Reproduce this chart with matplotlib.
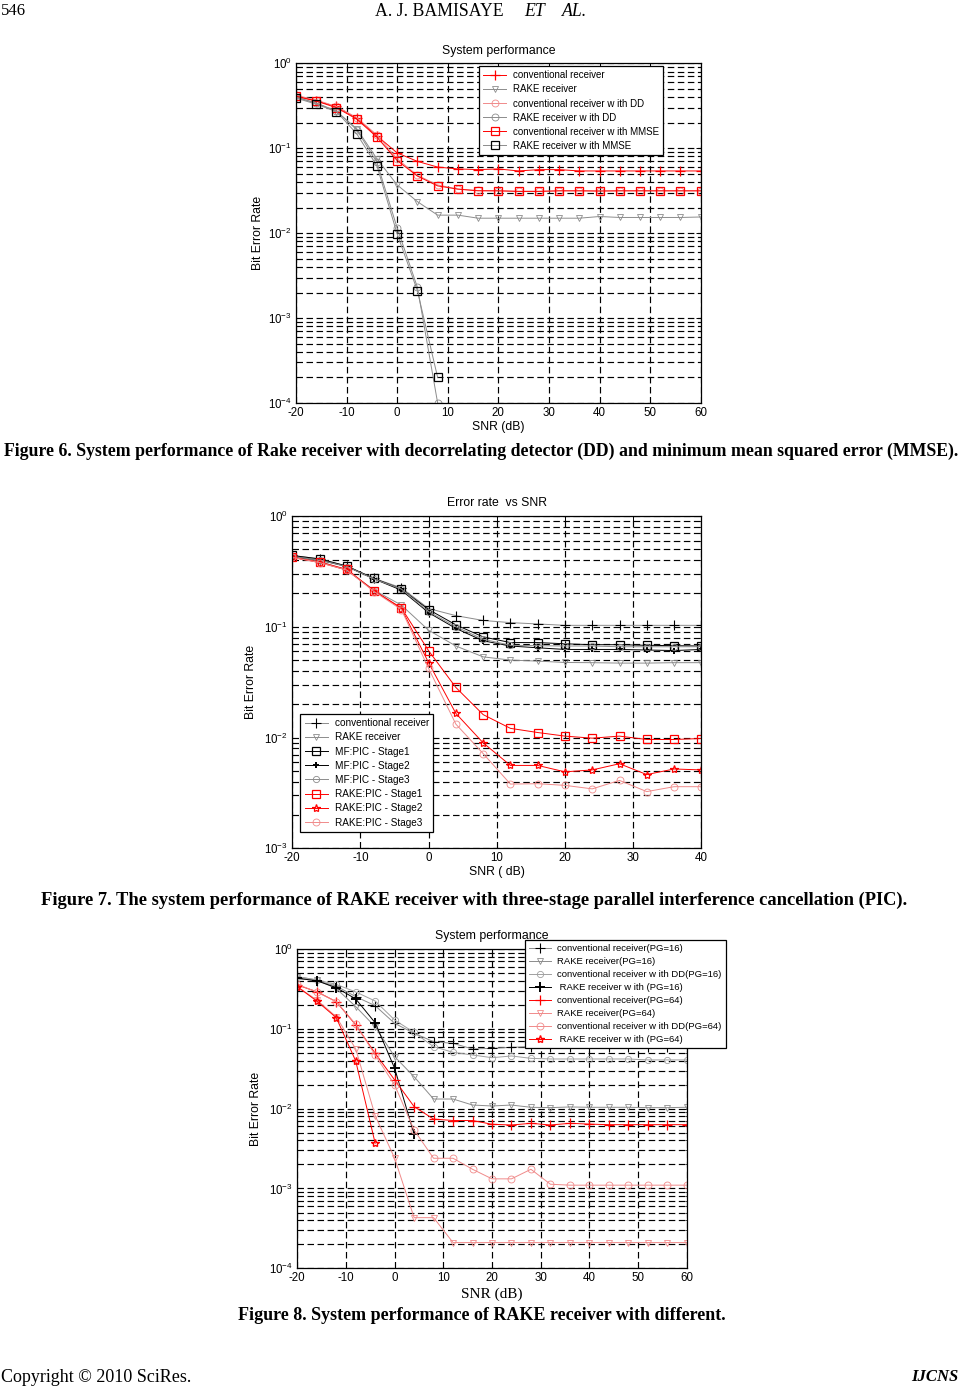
import matplotlib
matplotlib.use("Agg")
import matplotlib.pyplot as plt
from matplotlib.ticker import LogLocator, FixedLocator

plt.rcParams['font.family'] = ['Liberation Sans', 'DejaVu Sans']
plt.rcParams['mathtext.default'] = 'regular'
plt.rcParams['axes.unicode_minus'] = False

# ---------------- Figure 6 data ----------------
snr6 = [-20, -16, -12, -8, -4, 0, 4, 8, 12, 16, 20, 24, 28, 32, 36, 40, 44, 48, 52, 56, 60]
snr6_short = [-20, -16, -12, -8, -4, 0, 4, 8]
conv6 = [0.41, 0.36, 0.31, 0.225, 0.14, 0.088, 0.070, 0.060, 0.057, 0.056, 0.057, 0.054, 0.056,
         0.056, 0.054, 0.054, 0.054, 0.054, 0.054, 0.054, 0.054]
rake6 = [0.40, 0.34, 0.27, 0.17, 0.075, 0.037, 0.0235, 0.0163, 0.0163, 0.015, 0.015, 0.015, 0.015,
         0.015, 0.015, 0.0157, 0.0153, 0.0153, 0.0153, 0.0153, 0.0155]
convdd6 = [0.42, 0.37, 0.31, 0.23, 0.143, 0.075, 0.048, 0.037, 0.033, 0.0318, 0.0315, 0.0312, 0.0312,
           0.0315, 0.0315, 0.0315, 0.0315, 0.0315, 0.0315, 0.0315, 0.0315]
rakedd6 = [0.40, 0.34, 0.275, 0.165, 0.068, 0.0115, 0.0023, 0.0001]
convmmse6 = [0.41, 0.36, 0.30, 0.22, 0.135, 0.0716, 0.047, 0.036, 0.033, 0.0315, 0.0315, 0.031, 0.031,
             0.0315, 0.0315, 0.0313, 0.0315, 0.0315, 0.0315, 0.0315, 0.0315]
rakemmse6 = [0.39, 0.33, 0.27, 0.148, 0.062, 0.0098, 0.0021, 0.0002]
labels6 = ["conventional receiver", "RAKE receiver", "conventional receiver w ith DD",
           "RAKE receiver w ith DD", "conventional receiver w ith MMSE", "RAKE receiver w ith MMSE"]

# ---------------- Figure 7 data ----------------
snr7 = [-20, -16, -12, -8, -4, 0, 4, 8, 12, 16, 20, 24, 28, 32, 36, 40]
conv7 = [0.44, 0.41, 0.353, 0.273, 0.225, 0.146, 0.126, 0.114, 0.109, 0.106, 0.103, 0.103, 0.103, 0.103, 0.103, 0.103]
rake7 = [0.43, 0.39, 0.325, 0.214, 0.157, 0.093, 0.067, 0.0535, 0.050, 0.049, 0.0476, 0.0474, 0.047, 0.047, 0.0474, 0.0474]
mf1_7 = [0.44, 0.41, 0.353, 0.273, 0.219, 0.143, 0.104, 0.081, 0.072, 0.072, 0.0702, 0.0689, 0.0689, 0.068, 0.0675, 0.067]
mf2_7 = [0.43, 0.40, 0.35, 0.27, 0.214, 0.134, 0.0966, 0.0747, 0.067, 0.0646, 0.0624, 0.0624, 0.0624, 0.0617, 0.061, 0.0624]
mf3_7 = [0.43, 0.40, 0.35, 0.27, 0.219, 0.137, 0.100, 0.0772, 0.068, 0.0675, 0.067, 0.067, 0.066, 0.066, 0.066, 0.066]
rk1_7 = [0.423, 0.384, 0.33, 0.211, 0.148, 0.0607, 0.0283, 0.0161, 0.0121, 0.0111, 0.0103, 0.00987, 0.0103, 0.0096, 0.0096, 0.0098]
rk2_7 = [0.423, 0.38, 0.325, 0.211, 0.146, 0.0473, 0.0165, 0.00895, 0.0056, 0.0056, 0.0049, 0.0051, 0.0058, 0.00463, 0.0052, 0.0051]
rk3_7 = [0.423, 0.38, 0.325, 0.208, 0.143, 0.042, 0.0132, 0.00716, 0.0038, 0.00383, 0.0037, 0.00344, 0.0041, 0.00325, 0.0036, 0.0036]
labels7 = ["conventional receiver", "RAKE receiver", "MF:PIC - Stage1", "MF:PIC - Stage2",
           "MF:PIC - Stage3", "RAKE:PIC - Stage1", "RAKE:PIC - Stage2", "RAKE:PIC - Stage3"]

# ---------------- Figure 8 data ----------------
snr8 = [-20, -16, -12, -8, -4, 0, 4, 8, 12, 16, 20, 24, 28, 32, 36, 40, 44, 48, 52, 56, 60]
snr8_7 = [-20, -16, -12, -8, -4, 0, 4]
snr8_5 = [-20, -16, -12, -8, -4]
conv16 = [0.43, 0.40, 0.344, 0.253, 0.195, 0.117, 0.088, 0.069, 0.0658, 0.0559, 0.057, 0.0586, 0.06,
          0.06, 0.06, 0.06, 0.06, 0.06, 0.06, 0.06, 0.06]
rake16 = [0.45, 0.41, 0.32, 0.19, 0.106, 0.0448, 0.0251, 0.0132, 0.0132, 0.0111, 0.0108, 0.0111, 0.0104,
          0.0103, 0.0105, 0.0104, 0.0104, 0.0104, 0.0103, 0.0103, 0.0104]
dd16 = [0.45, 0.41, 0.36, 0.29, 0.223, 0.129, 0.090, 0.0598, 0.0508, 0.047, 0.0435, 0.0457, 0.0427,
        0.0419, 0.0419, 0.0419, 0.0419, 0.0419, 0.0408, 0.0408, 0.0408]
rakew16 = [0.43, 0.40, 0.328, 0.237, 0.119, 0.032, 0.00478]
conv64 = [0.354, 0.292, 0.219, 0.112, 0.0493, 0.0229, 0.0106, 0.0074, 0.0071, 0.0071, 0.00637, 0.00624,
          0.00655, 0.00624, 0.00655, 0.0064, 0.0063, 0.0063, 0.0063, 0.0063, 0.0063]
rake64 = [0.337, 0.23, 0.142, 0.056, 0.00817, 0.00239, 0.000431, 0.000431, 0.00021, 0.00021, 0.00021,
          0.00021, 0.00021, 0.00021, 0.00021, 0.00021, 0.00021, 0.00021, 0.00021, 0.00021, 0.00021]
dd64 = [0.36, 0.29, 0.219, 0.114, 0.047, 0.0198, 0.0054, 0.00239, 0.00239, 0.00174, 0.00132, 0.00132,
        0.00174, 0.00113, 0.0011, 0.0011, 0.0011, 0.0011, 0.0011, 0.0011, 0.0011]
rakew64 = [0.337, 0.223, 0.138, 0.0396, 0.00368]
labels8 = ["conventional receiver(PG=16)", "RAKE receiver(PG=16)", "conventional receiver w ith DD(PG=16)",
           " RAKE receiver w ith (PG=16)", "conventional receiver(PG=64)", "RAKE receiver(PG=64)",
           "conventional receiver w ith DD(PG=64)", " RAKE receiver w ith (PG=64)"]

RED = '#ff0000'
PINK = '#f08a8a'
GRAY = '#8c8c8c'
BLACK = '#000000'

W, H = 965, 1386
fig = plt.figure(figsize=(W / 100, H / 100), dpi=100)


def ax_rect(l, t, r, b):
    return [l / W, 1 - b / H, (r - l) / W, (b - t) / H]


def style(ax, xmin, xmax, xticks, ymin, ymax):
    ax.set_yscale('log')
    ax.set_xlim(xmin, xmax)
    ax.set_ylim(ymin, ymax)
    ax.xaxis.set_major_locator(FixedLocator(xticks))
    ax.yaxis.set_major_locator(LogLocator(base=10, numticks=10))
    ax.yaxis.set_minor_locator(LogLocator(base=10, subs=range(2, 10), numticks=10))
    ax.tick_params(which='both', direction='in', top=True, right=True, labelsize=8.3)
    ax.tick_params(axis='x', pad=3)
    ax.tick_params(axis='y', pad=3)
    ax.tick_params(which='major', length=3.5, width=0.7)
    ax.tick_params(which='minor', length=1.8, width=0.5)
    ax.grid(which='major', axis='both', color='black', linestyle=(0, (5.5, 3)), linewidth=0.85)
    ax.grid(which='minor', axis='y', color='black', linestyle=(0, (5.5, 3)), linewidth=0.85)
    ax.set_axisbelow(True)
    for s in ax.spines.values():
        s.set_linewidth(0.9)


def legend(ax, loc, anchor, fs):
    lg = ax.legend(loc=loc, bbox_to_anchor=anchor, fontsize=fs, frameon=True, fancybox=False,
                   framealpha=1, edgecolor='black', borderpad=0.45, labelspacing=0.42,
                   handlelength=2.3, handletextpad=0.7, borderaxespad=0)
    lg.get_frame().set_linewidth(0.9)
    lg.set_zorder(10)
    return lg


lw = 0.7
ms = 5.5

# ---------------- Figure 6 ----------------
ax6 = fig.add_axes(ax_rect(296, 63.3, 700.7, 403))
ax6.plot(snr6, conv6, color=RED, marker='+', ms=7, lw=lw, mew=0.9, label=labels6[0])
ax6.plot(snr6, rake6, color=GRAY, marker='v', ms=4.5, mfc='none', lw=lw, mew=0.6, label=labels6[1])
ax6.plot(snr6, convdd6, color=PINK, marker='o', ms=5, mfc='none', lw=lw, mew=0.6, label=labels6[2])
ax6.plot(snr6_short, rakedd6, color=GRAY, marker='o', ms=5, mfc='none', lw=lw, mew=0.6, label=labels6[3])
ax6.plot(snr6, convmmse6, color=RED, marker='s', ms=ms, mfc='none', lw=lw, mew=0.9, label=labels6[4])
ax6.plot(snr6_short, rakemmse6, color=GRAY, marker='s', ms=ms, mec=BLACK, mfc='none', lw=lw, mew=0.9,
         label=labels6[5])
style(ax6, -20, 60, [-20, -10, 0, 10, 20, 30, 40, 50, 60], 1e-4, 1)
ax6.set_title("System performance", fontsize=8.8, pad=7)
ax6.set_xlabel("SNR (dB)", fontsize=8.8, labelpad=1)
ax6.set_ylabel("Bit Error Rate", fontsize=8.8, labelpad=3)
legend(ax6, 'upper right', (0.907, 0.992), 7.0)

# ---------------- Figure 7 ----------------
ax7 = fig.add_axes(ax_rect(292.3, 516, 701.3, 848.3))
ax7.plot(snr7, conv7, color=GRAY, marker='+', ms=7, mec=BLACK, lw=lw, mew=0.8, label=labels7[0])
ax7.plot(snr7, rake7, color=GRAY, marker='v', ms=4.5, mfc='none', lw=lw, mew=0.6, label=labels7[1])
ax7.plot(snr7, mf1_7, color=BLACK, marker='s', ms=ms, mfc='none', lw=lw, mew=0.9, label=labels7[2])
ax7.plot(snr7, mf2_7, color=BLACK, marker='+', ms=5, lw=lw, mew=1.4, label=labels7[3])
ax7.plot(snr7, mf3_7, color=GRAY, marker='o', ms=4.5, mfc='none', lw=lw, mew=0.6, label=labels7[4])
ax7.plot(snr7, rk1_7, color=RED, marker='s', ms=ms, mfc='none', lw=lw, mew=0.9, label=labels7[5])
ax7.plot(snr7, rk2_7, color=RED, marker='*', ms=6, mfc='none', lw=lw, mew=0.9, label=labels7[6])
ax7.plot(snr7, rk3_7, color=PINK, marker='o', ms=5, mfc='none', lw=lw, mew=0.6, label=labels7[7])
style(ax7, -20, 40, [-20, -10, 0, 10, 20, 30, 40], 1e-3, 1)
ax7.set_title("Error rate  vs SNR", fontsize=8.8, pad=7)
ax7.set_xlabel("SNR ( dB)", fontsize=8.8, labelpad=1)
ax7.set_ylabel("Bit Error Rate", fontsize=8.8, labelpad=5)
legend(ax7, 'lower left', (0.019, 0.049), 7.2)

# ---------------- Figure 8 ----------------
ax8 = fig.add_axes(ax_rect(297.3, 949, 686.7, 1268.3))
ax8.plot(snr8, conv16, color=GRAY, marker='+', ms=7, mec=BLACK, lw=lw, mew=0.8, label=labels8[0])
ax8.plot(snr8, rake16, color=GRAY, marker='v', ms=4.5, mfc='none', lw=lw, mew=0.6, label=labels8[1])
ax8.plot(snr8, dd16, color='#a0a0a0', marker='o', ms=4.5, mfc='none', lw=lw, mew=0.6, label=labels8[2])
ax8.plot(snr8_7, rakew16, color=BLACK, marker='+', ms=7, lw=lw, mew=1.4, label=labels8[3])
ax8.plot(snr8, conv64, color=RED, marker='+', ms=7, lw=lw, mew=0.9, label=labels8[4])
ax8.plot(snr8, rake64, color=PINK, marker='v', ms=4.5, mfc='none', lw=lw, mew=0.6, label=labels8[5])
ax8.plot(snr8, dd64, color=PINK, marker='o', ms=5, mfc='none', lw=lw, mew=0.6, label=labels8[6])
ax8.plot(snr8_5, rakew64, color=RED, marker='*', ms=6, mfc='none', lw=lw, mew=1.0, label=labels8[7])
style(ax8, -20, 60, [-20, -10, 0, 10, 20, 30, 40, 50, 60], 1e-4, 1)
ax8.set_title("System performance", fontsize=8.8, pad=7)
ax8.set_xlabel("SNR (dB)", fontsize=11, labelpad=2, family=['Liberation Serif', 'DejaVu Serif'])
ax8.set_ylabel("Bit Error Rate", fontsize=8.8, labelpad=5)
legend(ax8, 'upper right', (1.101, 1.028), 6.8)

# ---------------- Page text ----------------
serif = ['Liberation Serif', 'DejaVu Serif']
fig.text(1 / W, 1 - 11 / H, "546", fontsize=12, family=serif, va='center', ha='left')
fig.text(375 / W, 1 - 11 / H, "A. J. BAMISAYE", fontsize=12.8, family=serif, va='center', ha='left')
fig.text(524 / W, 1 - 11 / H, "ET", fontsize=12.8, family=serif, style='italic', va='center', ha='left')
fig.text(562 / W, 1 - 11 / H, "AL.", fontsize=12.8, family=serif, style='italic', va='center', ha='left')
fig.text(481 / W, 1 - 451 / H,
         "Figure 6. System performance of Rake receiver with decorrelating detector (DD) and minimum mean squared error (MMSE).",
         fontsize=12.8, family=serif, weight='bold', va='center', ha='center')
fig.text(474 / W, 1 - 900 / H,
         "Figure 7. The system performance of RAKE receiver with three-stage parallel interference cancellation (PIC).",
         fontsize=13.3, family=serif, weight='bold', va='center', ha='center')
fig.text(482 / W, 1 - 1316 / H, "Figure 8. System performance of RAKE receiver with different.",
         fontsize=13, family=serif, weight='bold', va='center', ha='center')
fig.text(1 / W, 1 - 1377 / H, "Copyright © 2010 SciRes.", fontsize=13, family=serif, va='center', ha='left')
fig.text(958 / W, 1 - 1377 / H, "IJCNS", fontsize=12, family=serif, weight='bold', style='italic',
         va='center', ha='right')

fig.savefig("out.png", dpi=100)
